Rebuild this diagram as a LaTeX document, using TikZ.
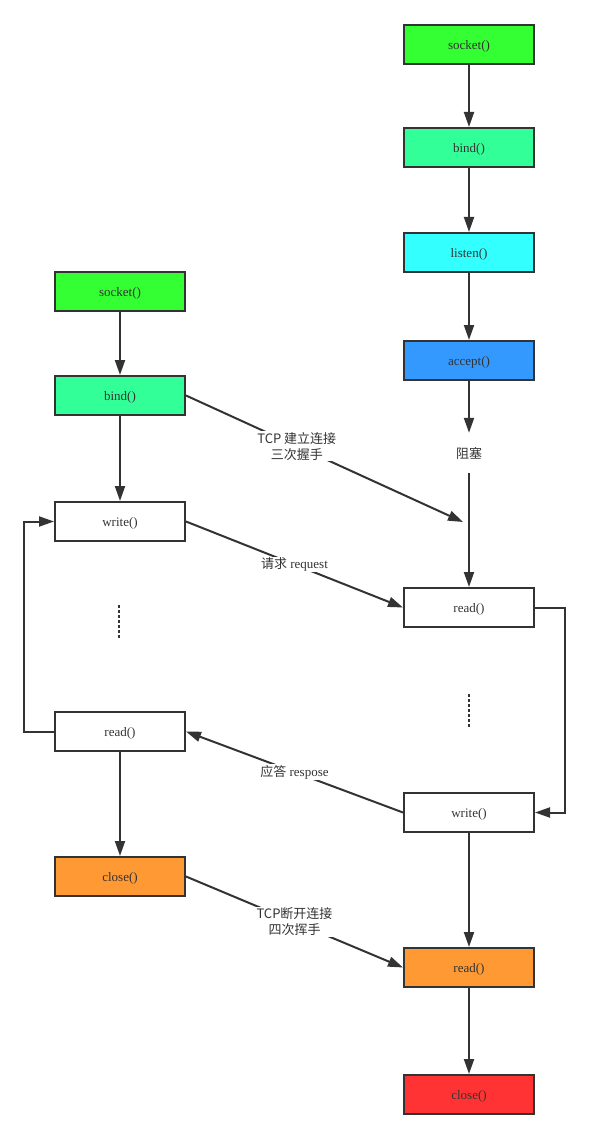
\documentclass[tikz,border=0pt]{standalone}
\usepackage{fontspec}
\setmainfont{Liberation Serif}
\newfontfamily\cjk{Noto Sans CJK SC}
\usetikzlibrary{arrows.meta}
\definecolor{linegray}{HTML}{333333}
\definecolor{sockgreen}{HTML}{33FF33}
\definecolor{bindgreen}{HTML}{33FF99}
\definecolor{listencyan}{HTML}{33FFFF}
\definecolor{acceptblue}{HTML}{3399FF}
\definecolor{closeorange}{HTML}{FF9933}
\definecolor{closered}{HTML}{FF3333}
\begin{document}
\begin{tikzpicture}[x=1pt,y=-1pt,
        fnbox/.style={draw=linegray,line width=2pt,minimum width=130pt,minimum height=39pt,
            inner sep=0pt,text=linegray,text height=10pt,text depth=0pt,
            font=\fontsize{13}{15}\selectfont},
        flow/.style={-{Triangle[length=15pt,width=10pt]},line width=2pt,draw=linegray},
        msg/.style={fill=white,inner sep=1pt,align=center,text=linegray,
            font=\fontsize{13}{16}\selectfont}]
        \useasboundingbox (0,0) rectangle (589,1139);
        % server side
        \node[fnbox,fill=sockgreen]   (ssocket) at (469,44.5)  {socket()};
        \node[fnbox,fill=bindgreen]   (sbind)   at (469,147.5) {bind()};
        \node[fnbox,fill=listencyan]  (slisten) at (469,252.5) {listen()};
        \node[fnbox,fill=acceptblue]  (saccept) at (469,360.5) {accept()};
        \node[text=linegray,font=\cjk\fontsize{13}{15}\selectfont,inner sep=0pt,minimum height=40pt] (block) at (469,453) {阻塞};
        \node[fnbox]                  (sread)   at (469,607.5) {read()};
        \node[fnbox]                  (swrite)  at (469,812.5) {write()};
        \node[fnbox,fill=closeorange] (sread2)  at (469,967.5) {read()};
        \node[fnbox,fill=closered]    (sclose)  at (469,1094.5) {close()};
        \coordinate (shake) at (463,522);
        \draw[flow] (ssocket) -- (sbind);
        \draw[flow] (sbind) -- (slisten);
        \draw[flow] (slisten) -- (saccept);
        \draw[flow] (saccept) -- (block);
        \draw[flow] (block) -- (sread);
        \draw[flow] (swrite) -- (sread2);
        \draw[flow] (sread2) -- (sclose);
        \draw[flow] (sread.east) -- ++(30,0) |- (swrite.east);
        \draw[line width=2pt,draw=linegray,dash pattern=on 2.5pt off 2.5pt] (469,694) -- (469,727);
        % client side
        \node[fnbox,fill=sockgreen]   (csocket) at (120,291.5) {socket()};
        \node[fnbox,fill=bindgreen]   (cbind)   at (120,395.5) {bind()};
        \node[fnbox]                  (cwrite)  at (120,521.5) {write()};
        \node[fnbox]                  (cread)   at (120,731.5) {read()};
        \node[fnbox,fill=closeorange] (cclose)  at (120,876.5) {close()};
        \draw[flow] (csocket) -- (cbind);
        \draw[flow] (cbind) -- (cwrite);
        \draw[flow] (cread) -- (cclose);
        \draw[flow] (cread.west) -- ++(-30,0) |- (cwrite.west);
        \draw[line width=2pt,draw=linegray,dash pattern=on 2.5pt off 2.5pt] (119,605) -- (119,638);
        % messages
        \draw[flow] (cbind.east) -- (shake)
            node[msg,pos=0.4] {\cjk TCP 建立连接\\\cjk 三次握手};
        \draw[flow] (cwrite.east) -- (sread.west)
            node[msg,midway] {{\cjk 请求} request};
        \draw[flow] (swrite.west) -- (cread.east)
            node[msg,midway] {{\cjk 应答} respose};
        \draw[flow] (cclose.east) -- (sread2.west)
            node[msg,midway] {\cjk TCP断开连接\\\cjk 四次挥手};
    \end{tikzpicture}
\end{document}
